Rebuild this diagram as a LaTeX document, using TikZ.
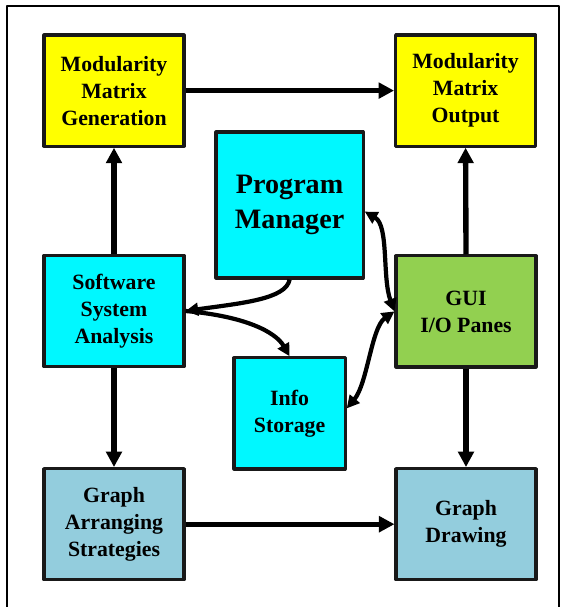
\documentclass[tikz,border=0pt]{standalone}
\usepackage{fontspec}
\setmainfont{Liberation Serif}
\usetikzlibrary{arrows.meta}
\definecolor{boxyellow}{HTML}{FFFF00}
\definecolor{boxcyan}{HTML}{00F8FF}
\definecolor{boxgreen}{HTML}{92D050}
\definecolor{boxblue}{HTML}{93CDDD}
\begin{document}
\begin{tikzpicture}[line join=round,
		box/.style={draw=black!90, line width=2.2pt, align=center, minimum width=3.5cm, minimum height=2.78cm, inner sep=0pt, font=\fontsize{15.5}{19.2}\selectfont\bfseries},
		link/.style={line width=3.8pt, -{Triangle[width=11pt,length=11pt]}},
		swap/.style={line width=3pt, {Triangle[width=9pt,length=9pt]}-{Triangle[width=9pt,length=9pt]}}]
		\clip (0,0) rectangle (14.2,15.175);
		\draw[line width=1.7pt] (0.175,-1) rectangle (13.975,15.025);
		% outer ring of boxes
		\node[box, fill=boxyellow] (mmg) at (2.85,12.91) {Modularity\\Matrix\\Generation};
		\node[box, fill=boxyellow] (mmo) at (11.64,12.91) {Modularity\\Matrix\\Output};
		\node[box, fill=boxcyan] (ssa) at (2.85,7.40) {Software\\System\\Analysis};
		\node[box, fill=boxgreen] (gui) at (11.65,7.39) {GUI\\I/O Panes};
		\node[box, fill=boxblue] (gas) at (2.85,2.07) {Graph\\Arranging\\Strategies};
		\node[box, fill=boxblue] (gd) at (11.65,2.07) {Graph\\Drawing};
		% middle column
		\node[box, fill=boxcyan, minimum width=3.68cm, minimum height=3.65cm, font=\fontsize{20}{24.5}\selectfont\bfseries] (pm) at (7.24,10.05) {Program\\Manager};
		\node[box, fill=boxcyan, minimum width=2.78cm] (is) at (7.24,4.84) {Info\\Storage};
		\draw[link] (mmg.east)--(mmo.west);
		\draw[link] (ssa.north)--(mmg.south);
		\draw[link] (ssa.south)--(gas.north);
		\draw[link] (gas.east)--(gd.west);
		\draw[link] (gui.north)--(mmo.south);
		\draw[link] (gui.south)--(gd.north);
		\draw[link, line width=3pt, -{Triangle[width=9pt,length=9pt]}] (pm.south)..controls +(-100:0.5) and +(8:1.4)..(ssa.east);
		\draw[link, line width=3pt, -{Triangle[width=9pt,length=9pt]}] (ssa.east)..controls +(-5:1.5) and +(120:0.7)..(is.north);
		\draw[swap] (pm.-5)..controls +(-30:0.7) and +(110:0.9)..(gui.west);
		\draw[swap] (is.5)..controls +(50:0.8) and +(215:0.7)..(gui.west);
\end{tikzpicture}
\end{document}
